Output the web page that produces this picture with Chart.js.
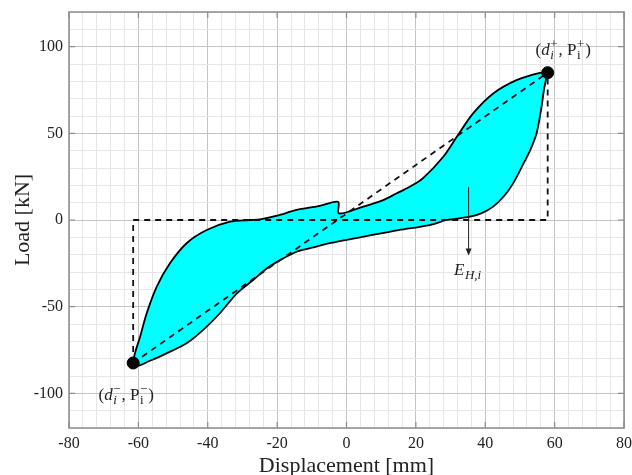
<!DOCTYPE html>
<html>
<head>
<meta charset="utf-8">
<script src="https://cdn.jsdelivr.net/npm/chart.js@4.4.1/dist/chart.umd.min.js"></script>
<style>
  html, body { margin: 0; padding: 0; background: #fff; }
  #wrap { width: 632px; height: 475px; }
</style>
</head>
<body>
<div id="wrap"><canvas id="chart" width="632" height="475"></canvas></div>
<script>
// hysteresis loop: peak -> unloading -> negative peak -> reloading
var loopX = [58, 57, 56.2, 54.8, 52.9, 50.5, 48, 45.5, 42.3, 39, 35.6, 31, 28.9, 24, 15, 5, -4.8, -10, -14.4, -19, -23,
    -26.9, -31.6, -36.5, -41.3, -46.1, -52.8, -57, -60, -61.5,
    -61, -59.5, -57.6, -54.7, -50.9, -46.1, -40.3, -33.6, -28, -24.9, -20, -14.4, -8, -2.4, -2.2,
    4.8, 10, 14.5, 18.5, 22, 27.9, 31.8, 36.5, 42.3, 49, 55.8, 58];
var loopY = [85, 76, 65, 50, 40, 30.5, 21, 14, 7.7, 4, 1.9, 0.5, 0, -2.9, -5.8, -9.6, -13.4, -16, -18.3, -23, -28,
    -34.6, -42.3, -53.8, -63.4, -71.1, -77.8, -81.5, -84, -83,
    -77, -67.3, -53.8, -38.4, -25, -13.4, -5.8, -1, 0, 0.4, 2.5, 5.8, 8, 10.5, 3.8,
    7.7, 11, 15.4, 19.5, 24, 36.5, 48, 61.5, 73, 80.7, 84.9, 85];

// peak points (d-, P-) and (d+, P+)
var peakX = [-61.5, 58];
var peakY = [-82.5, 85];

// bilinear / secant reference path
var guideX = [-61.5, -61.5, 58, 58];
var guideY = [-82.5, 0, 0, 85];

var xTicks = [-80, -60, -40, -20, 0, 20, 40, 60, 80];
var yTicks = [-100, -50, 0, 50, 100];

function pts(xs, ys) {
    return xs.map(function (x, i) { return { x: x, y: ys[i] }; });
}

var SERIF = '"Liberation Serif", "DejaVu Serif", serif';

// draws a run of text parts, some raised or lowered
function drawRich(ctx, parts, cx, cy) {
    var total = 0;
    parts.forEach(function (p) {
        ctx.font = p.font;
        p.w = ctx.measureText(p.t).width;
        if (p.sub) {
            ctx.font = p.subFont;
            p.w = Math.max(p.w, ctx.measureText(p.sub).width);
        }
        total += p.w + (p.gap || 0);
    });
    var x = cx - total / 2;
    ctx.textBaseline = 'alphabetic';
    ctx.textAlign = 'left';
    ctx.fillStyle = '#222';
    parts.forEach(function (p) {
        ctx.font = p.font;
        ctx.fillText(p.t, x, cy + (p.dy || 0));
        if (p.sub) {
            ctx.font = p.subFont;
            ctx.fillText(p.sub, x, cy + p.subDy);
        }
        x += p.w + (p.gap || 0);
    });
}

var notes = {
    id: 'notes',
    afterDraw: function (chart) {
        var ctx = chart.ctx;
        var xs = chart.scales.x, ys = chart.scales.y;
        var a = chart.chartArea;
        ctx.save();
        // frame + inner major ticks on all sides
        ctx.strokeStyle = '#8c8c8c';
        ctx.lineWidth = 1.5;
        ctx.strokeRect(a.left, a.top, a.right - a.left, a.bottom - a.top);
        ctx.lineWidth = 1.2;
        ctx.beginPath();
        xTicks.forEach(function (v) {
            var px = xs.getPixelForValue(v);
            ctx.moveTo(px, a.bottom); ctx.lineTo(px, a.bottom - 6);
            ctx.moveTo(px, a.top); ctx.lineTo(px, a.top + 6);
        });
        yTicks.forEach(function (v) {
            var py = ys.getPixelForValue(v);
            ctx.moveTo(a.left, py); ctx.lineTo(a.left + 6, py);
            ctx.moveTo(a.right, py); ctx.lineTo(a.right - 6, py);
        });
        ctx.stroke();

        var it = 'italic 17px ' + SERIF, rm = '17px ' + SERIF;
        var sm = '13px ' + SERIF, smi = 'italic 13px ' + SERIF;

        // (d_i^+, P_i^+)
        drawRich(ctx, [
            { t: '(', font: rm },
            { t: 'd', font: it, gap: 0.5 },
            { t: '+', font: sm, dy: -7, sub: 'i', subFont: smi, subDy: 4, gap: 1 },
            { t: ', P', font: rm, gap: 0.5 },
            { t: '+', font: sm, dy: -7, sub: 'i', subFont: sm, subDy: 4, gap: 1 },
            { t: ')', font: rm }
        ], xs.getPixelForValue(62.5), ys.getPixelForValue(95));

        // (d_i^-, P_i^-)
        drawRich(ctx, [
            { t: '(', font: rm },
            { t: 'd', font: it, gap: 0.5 },
            { t: '\u2212', font: sm, dy: -7, sub: 'i', subFont: smi, subDy: 4, gap: 1 },
            { t: ', P', font: rm, gap: 0.5 },
            { t: '\u2212', font: sm, dy: -7, sub: 'i', subFont: sm, subDy: 4, gap: 1 },
            { t: ')', font: rm }
        ], xs.getPixelForValue(-63.5), ys.getPixelForValue(-104));

        // E_H,i with arrow
        var ax = xs.getPixelForValue(35.2);
        var y0 = ys.getPixelForValue(19), y1 = ys.getPixelForValue(-20.5);
        ctx.strokeStyle = '#222';
        ctx.lineWidth = 1;
        ctx.beginPath();
        ctx.moveTo(ax, y0);
        ctx.lineTo(ax, y1 - 6);
        ctx.stroke();
        ctx.fillStyle = '#222';
        ctx.beginPath();
        ctx.moveTo(ax - 3, y1 - 7);
        ctx.lineTo(ax + 3, y1 - 7);
        ctx.lineTo(ax, y1);
        ctx.closePath();
        ctx.fill();
        drawRich(ctx, [
            { t: 'E', font: it, gap: 0.5 },
            { t: 'H,i', font: smi, dy: 4 }
        ], xs.getPixelForValue(34.9), ys.getPixelForValue(-32));
        ctx.restore();
    }
};

new Chart(document.getElementById('chart'), {
    type: 'scatter',
    data: {
        datasets: [
            {
                data: pts(peakX, peakY),
                pointRadius: 6,
                pointBackgroundColor: '#000',
                pointBorderColor: '#000',
                showLine: false
            },
            {
                data: pts(guideX, guideY),
                showLine: true,
                borderColor: '#111',
                borderWidth: 1.8,
                borderDash: [6, 5],
                pointRadius: 0,
                fill: false
            },
            {
                data: [{ x: peakX[0], y: peakY[0] }, { x: peakX[1], y: peakY[1] }],
                showLine: true,
                borderColor: '#111',
                borderWidth: 1.8,
                borderDash: [6, 5],
                pointRadius: 0,
                fill: false
            },
            {
                data: pts(loopX, loopY),
                showLine: true,
                borderColor: '#000',
                borderWidth: 1.8,
                backgroundColor: '#00ffff',
                fill: 'shape',
                tension: 0.3,
                pointRadius: 0
            }
        ]
    },
    options: {
        responsive: false,
        animation: false,
        layout: { padding: { top: 12, right: 8, left: 0, bottom: 0 } },
        plugins: { legend: { display: false }, tooltip: { enabled: false } },
        scales: {
            x: {
                type: 'linear',
                min: -80, max: 80,
                afterFit: function (s) {
                    s.height = 47;
                    s.paddingLeft = 0; s.paddingRight = 0;
                },
                ticks: {
                    stepSize: 4,
                    autoSkip: false,
                    maxRotation: 0,
                    padding: 6,
                    color: '#222',
                    font: { family: SERIF, size: 16 },
                    callback: function (v) { return xTicks.indexOf(v) >= 0 ? String(v) : ''; }
                },
                grid: {
                    drawTicks: false,
                    color: function (c) { return c.tick && c.tick.value % 20 === 0 ? '#c4c4c4' : '#e6e6e6'; },
                    lineWidth: 1
                },
                border: { display: false },
                title: {
                    display: true,
                    text: 'Displacement [mm]',
                    color: '#222',
                    font: { family: SERIF, size: 22 },
                    padding: { top: 0, bottom: -4 }
                }
            },
            y: {
                type: 'linear',
                min: -120, max: 120,
                afterFit: function (s) {
                    s.width = 69;
                    s.paddingTop = 0; s.paddingBottom = 0;
                },
                ticks: {
                    stepSize: 10,
                    autoSkip: false,
                    padding: 6,
                    color: '#222',
                    font: { family: SERIF, size: 16 },
                    callback: function (v) { return yTicks.indexOf(v) >= 0 ? String(v) : ''; }
                },
                grid: {
                    drawTicks: false,
                    color: function (c) { return c.tick && c.tick.value % 50 === 0 ? '#c4c4c4' : '#e6e6e6'; },
                    lineWidth: 1
                },
                border: { display: false },
                title: {
                    display: true,
                    text: 'Load [kN]',
                    color: '#222',
                    font: { family: SERIF, size: 22 },
                    padding: { top: 10, bottom: 0 }
                }
            }
        }
    },
    plugins: [notes]
});
</script>
</body>
</html>
